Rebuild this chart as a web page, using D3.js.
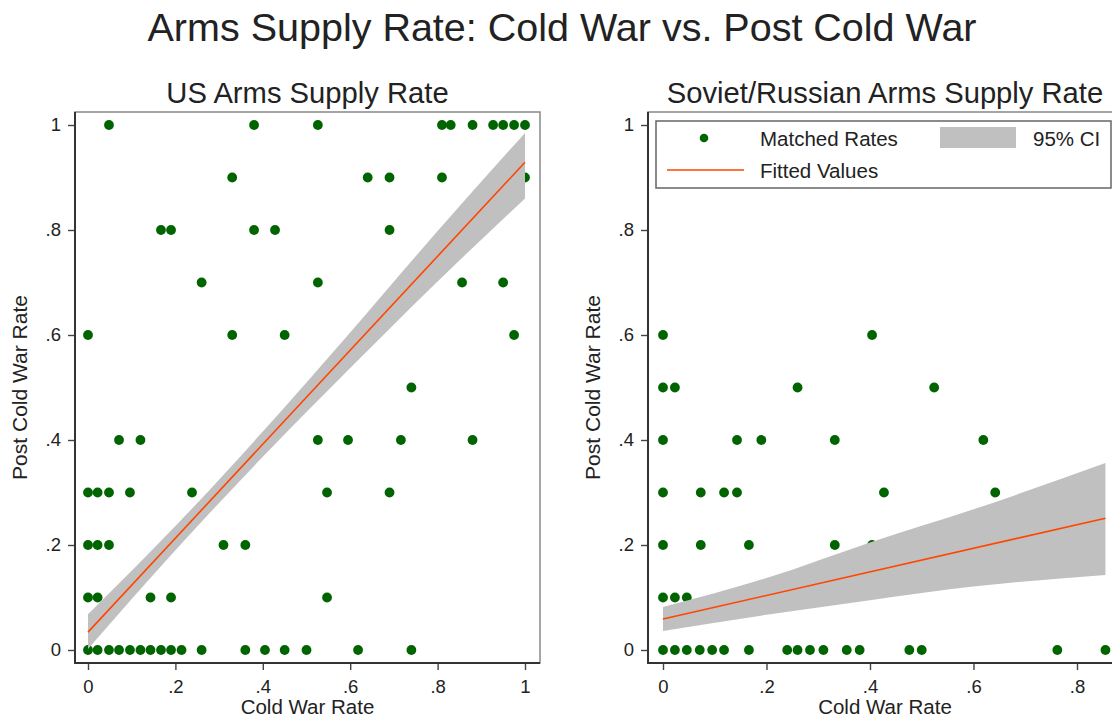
<!DOCTYPE html>
<html>
<head>
<meta charset="utf-8">
<script src="https://cdnjs.cloudflare.com/ajax/libs/d3/7.8.5/d3.min.js"></script>
<style>
  body { margin: 0; background: #fff; }
  svg { display: block; font-family: "Liberation Sans", Arial, sans-serif; }
</style>
</head>
<body>
<svg id="chart" width="1112" height="722"></svg>
<script>
// US points: cold war rate (x) and post cold war rate (y), read row by row
const usColdRate = [
  0.048, 0.38, 0.526, 0.81, 0.83, 0.88, 0.927, 0.95, 0.975, 1.0,
  0.33, 0.64, 0.69, 0.81, 1.0,
  0.167, 0.19, 0.38, 0.428, 0.69,
  0.26, 0.526, 0.856, 0.95,
  0.0, 0.33, 0.45, 0.975,
  0.74,
  0.071, 0.12, 0.526, 0.595, 0.716, 0.88,
  0.0, 0.022, 0.048, 0.096, 0.238, 0.547, 0.69,
  0.0, 0.022, 0.048, 0.31, 0.36,
  0.0, 0.022, 0.143, 0.19, 0.547,
  0.0, 0.022, 0.048, 0.071, 0.096, 0.12, 0.143, 0.167, 0.19, 0.214, 0.26, 0.36, 0.405, 0.45, 0.5, 0.618, 0.74
];
const usPostRate = [
  1, 1, 1, 1, 1, 1, 1, 1, 1, 1,
  0.9, 0.9, 0.9, 0.9, 0.9,
  0.8, 0.8, 0.8, 0.8, 0.8,
  0.7, 0.7, 0.7, 0.7,
  0.6, 0.6, 0.6, 0.6,
  0.5,
  0.4, 0.4, 0.4, 0.4, 0.4, 0.4,
  0.3, 0.3, 0.3, 0.3, 0.3, 0.3, 0.3,
  0.2, 0.2, 0.2, 0.2, 0.2,
  0.1, 0.1, 0.1, 0.1, 0.1,
  0, 0, 0, 0, 0, 0, 0, 0, 0, 0, 0, 0, 0, 0, 0, 0, 0
];

// Soviet/Russian points
const ruColdRate = [
  0.0, 0.404,
  0.0, 0.023, 0.26, 0.524,
  0.0, 0.143, 0.19, 0.332, 0.619,
  0.0, 0.073, 0.118, 0.143, 0.427, 0.642,
  0.0, 0.073, 0.166, 0.332, 0.404,
  0.0, 0.023, 0.046,
  0.0, 0.023, 0.046, 0.071, 0.095, 0.118, 0.166, 0.24, 0.26, 0.284, 0.31, 0.355, 0.38, 0.476, 0.5, 0.762, 0.855
];
const ruPostRate = [
  0.6, 0.6,
  0.5, 0.5, 0.5, 0.5,
  0.4, 0.4, 0.4, 0.4, 0.4,
  0.3, 0.3, 0.3, 0.3, 0.3, 0.3,
  0.2, 0.2, 0.2, 0.2, 0.2,
  0.1, 0.1, 0.1,
  0, 0, 0, 0, 0, 0, 0, 0, 0, 0, 0, 0, 0, 0, 0, 0, 0
];

// fitted lines and 95% CI bands
const usFitX = [0, 1];
const usFitY = [0.034, 0.929];
const usBandX = [0, 0.2, 0.4, 0.6, 0.8, 1.0];
const usBandHi = [0.068, 0.236, 0.416, 0.605, 0.798, 0.985];
const usBandLo = [0.002, 0.19, 0.368, 0.537, 0.702, 0.86];

const ruFitX = [0, 0.855];
const ruFitY = [0.059, 0.251];
const ruBandX = [0, 0.2, 0.4, 0.6, 0.855];
const ruBandHi = [0.082, 0.137, 0.205, 0.268, 0.356];
const ruBandLo = [0.036, 0.067, 0.095, 0.121, 0.143];

const yTicks = [0, 0.2, 0.4, 0.6, 0.8, 1];
const usXTicks = [0, 0.2, 0.4, 0.6, 0.8, 1];
const ruXTicks = [0, 0.2, 0.4, 0.6, 0.8];

const DOT = "#006400", FIT = "#ff4500", BAND = "#c0c0c0", INK = "#222";

// stata style labels: ".2" instead of "0.2"
const stataFmt = (v) => d3.format("~g")(v).replace(/^0\./, ".");

let svg = d3.select("#chart");
svg.append("rect").attr("width", 1112).attr("height", 722).attr("fill", "#fff");

svg.append("text")
  .attr("x", 562).attr("y", 41)
  .attr("text-anchor", "middle")
  .attr("font-size", 39.5)
  .attr("fill", INK)
  .text("Arms Supply Rate: Cold War vs. Post Cold War");

let panels = [
  { title: "US Arms Supply Rate", left: 75, right: 540, xDomain: [0, 1], xRange: [88, 525],
    cold: usColdRate, post: usPostRate, fitX: usFitX, fitY: usFitY,
    bandX: usBandX, bandHi: usBandHi, bandLo: usBandLo, xTicks: usXTicks },
  { title: "Soviet/Russian Arms Supply Rate", left: 648, right: 1122, xDomain: [0, 0.858], xRange: [663, 1107],
    cold: ruColdRate, post: ruPostRate, fitX: ruFitX, fitY: ruFitY,
    bandX: ruBandX, bandHi: ruBandHi, bandLo: ruBandLo, xTicks: ruXTicks, legend: true }
];

const TOP = 112, BOTTOM = 663;

panels.forEach((p) => {
  let x = d3.scaleLinear().domain(p.xDomain).range(p.xRange);
  let y = d3.scaleLinear().domain([0, 1]).range([650, 125]);
  let g = svg.append("g");

  // frame
  g.append("rect")
    .attr("x", p.left).attr("y", TOP)
    .attr("width", p.right - p.left).attr("height", BOTTOM - TOP)
    .attr("fill", "none").attr("stroke", "#888").attr("stroke-width", 1.5);

  let clipId = "clip" + p.left;
  g.append("clipPath").attr("id", clipId)
    .append("rect").attr("x", p.left).attr("y", TOP)
    .attr("width", p.right - p.left).attr("height", BOTTOM - TOP);

  let plot = g.append("g").attr("clip-path", "url(#" + clipId + ")");

  // points first, the CI band sits over them
  plot.selectAll("circle")
    .data(d3.zip(p.cold, p.post))
    .enter().append("circle")
    .attr("cx", (d) => x(d[0]))
    .attr("cy", (d) => y(d[1]))
    .attr("r", 4.9)
    .attr("fill", DOT);

  let area = d3.area()
    .x((d) => x(d[0]))
    .y0((d) => y(d[2]))
    .y1((d) => y(d[1]))
    .curve(d3.curveMonotoneX);
  plot.append("path")
    .datum(d3.zip(p.bandX, p.bandHi, p.bandLo))
    .attr("d", area)
    .attr("fill", BAND);

  let line = d3.line().x((d) => x(d[0])).y((d) => y(d[1]));
  plot.append("path")
    .datum(d3.zip(p.fitX, p.fitY))
    .attr("d", line)
    .attr("fill", "none")
    .attr("stroke", FIT)
    .attr("stroke-width", 1.6);

  // axes
  let yAxis = g.append("g")
    .attr("transform", "translate(" + p.left + ",0)")
    .call(d3.axisLeft(y).tickValues(yTicks).tickFormat(stataFmt).tickSize(7).tickPadding(7));
  let xAxis = g.append("g")
    .attr("transform", "translate(0," + BOTTOM + ")")
    .call(d3.axisBottom(x).tickValues(p.xTicks).tickFormat(stataFmt).tickSize(7).tickPadding(10));
  [yAxis, xAxis].forEach((a) => {
    a.attr("font-size", 18.5).attr("font-family", null);
    a.select(".domain").remove();
    a.selectAll("line").attr("stroke", "#444").attr("stroke-width", 1.4);
    a.selectAll("text").attr("fill", INK);
  });

  g.append("line")
    .attr("x1", p.left).attr("x2", p.left).attr("y1", TOP).attr("y2", BOTTOM + 0.7)
    .attr("stroke", "#333").attr("stroke-width", 2);
  g.append("line")
    .attr("x1", p.left - 0.7).attr("x2", p.right).attr("y1", BOTTOM).attr("y2", BOTTOM)
    .attr("stroke", "#333").attr("stroke-width", 2);

  let cx = (p.left + p.right) / 2;
  g.append("text")
    .attr("x", cx).attr("y", 103)
    .attr("text-anchor", "middle")
    .attr("font-size", 29.2)
    .attr("fill", INK)
    .text(p.title);

  g.append("text")
    .attr("x", cx).attr("y", 714)
    .attr("text-anchor", "middle")
    .attr("font-size", 20.5)
    .attr("fill", INK)
    .text("Cold War Rate");

  g.append("text")
    .attr("transform", "translate(" + (p.left - 48.5) + "," + ((TOP + BOTTOM) / 2) + ") rotate(-90)")
    .attr("text-anchor", "middle")
    .attr("font-size", 21)
    .attr("fill", INK)
    .text("Post Cold War Rate");

  if (p.legend) {
    let lg = g.append("g");
    lg.append("rect")
      .attr("x", 656).attr("y", 121).attr("width", 455).attr("height", 67)
      .attr("fill", "#fff").attr("stroke", "#666").attr("stroke-width", 1.5);
    lg.append("circle").attr("cx", 704).attr("cy", 138).attr("r", 4.3).attr("fill", DOT);
    lg.append("text").attr("x", 760).attr("y", 145.5).attr("font-size", 20.5).attr("fill", INK).text("Matched Rates");
    lg.append("rect").attr("x", 940).attr("y", 127).attr("width", 76).attr("height", 21).attr("fill", BAND);
    lg.append("text").attr("x", 1033).attr("y", 145.5).attr("font-size", 20.5).attr("fill", INK).text("95% CI");
    lg.append("line").attr("x1", 667).attr("x2", 744).attr("y1", 170).attr("y2", 170)
      .attr("stroke", FIT).attr("stroke-width", 1.6);
    lg.append("text").attr("x", 760).attr("y", 177.5).attr("font-size", 20.5).attr("fill", INK).text("Fitted Values");
  }
});
</script>
</body>
</html>
